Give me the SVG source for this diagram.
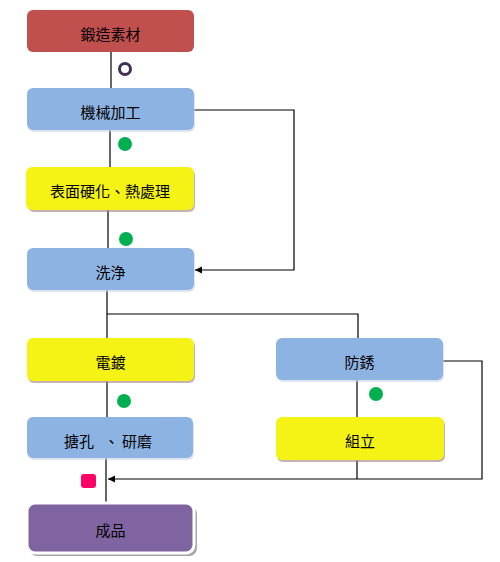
<svg xmlns="http://www.w3.org/2000/svg" width="500" height="562" viewBox="0 0 500 562">
<defs>
<marker id="arr" markerWidth="8" markerHeight="8" refX="7" refY="4" orient="auto" markerUnits="userSpaceOnUse">
<path d="M0,0.5 L7,4 L0,7.5 Z" fill="#000"/>
</marker>
</defs>
<style>
text{font-family:"Noto Sans CJK TC","Noto Sans CJK JP",sans-serif;font-size:15px;fill:#000;text-anchor:middle;dominant-baseline:central}
.red{fill:#c0504d}
.blue{fill:#8db3e2}
.yel{fill:#f5f215}
.pur{fill:#8064a2;stroke:#fff;stroke-width:3}
.sh{fill:#b09090;opacity:0.7}
.shb{fill:#c8d4e6;opacity:0.6}
.ln{stroke:#000;stroke-width:1.2;fill:none}
.dot{fill:#00b050}
</style>
<rect width="500" height="562" fill="#fff"/>
<g id="connectors">
<line class="ln" x1="111" y1="52" x2="111" y2="88"/>
<line class="ln" x1="110" y1="130" x2="110" y2="167"/>
<line class="ln" x1="108" y1="210" x2="108" y2="248"/>
<polyline class="ln" points="194,110 294,110 294,270 195,270" marker-end="url(#arr)"/>
<polyline class="ln" points="107,290 107,338"/>
<polyline class="ln" points="107,314 358,314 358,338"/>
<line class="ln" x1="107" y1="381" x2="107" y2="417"/>
<line class="ln" x1="357" y1="380" x2="357" y2="417"/>
<polyline class="ln" points="443,361 482,361 482,479 108,479" marker-end="url(#arr)"/>
<line class="ln" x1="357" y1="460" x2="357" y2="479"/>
<line class="ln" x1="106" y1="458" x2="106" y2="502"/>
</g>
<g id="mark-circle"><circle cx="125" cy="69" r="5.5" fill="#fff" stroke="#3f3151" stroke-width="3"/></g>
<g id="mark-dot1"><circle class="dot" cx="125" cy="144" r="7"/></g>
<g id="mark-dot2"><circle class="dot" cx="126" cy="239" r="7"/></g>
<g id="mark-dot3"><circle class="dot" cx="124" cy="401" r="7"/></g>
<g id="mark-dot4"><circle class="dot" cx="376" cy="394" r="7"/></g>
<g id="mark-square"><rect x="81" y="474" width="15" height="14" rx="3" fill="#ff0066"/></g>
<g id="node-forging">
<rect class="red" x="27" y="10" width="167" height="42" rx="6"/>
<text x="110.5" y="33">鍛造素材</text>
</g>
<g id="node-machining">
<rect class="shb" x="28" y="90" width="167" height="42" rx="6"/>
<rect class="blue" x="27" y="88" width="167" height="42" rx="6"/>
<text x="110.5" y="111">機械加工</text>
</g>
<g id="node-hardening">
<rect class="sh" x="28" y="169" width="167" height="43" rx="6"/>
<rect class="yel" x="26" y="167" width="168" height="43" rx="6"/>
<text x="110" y="190">表面硬化、熱處理</text>
</g>
<g id="node-wash">
<rect class="shb" x="28" y="250" width="167" height="42" rx="6"/>
<rect class="blue" x="27" y="248" width="167" height="42" rx="6"/>
<text x="110.5" y="271">洗浄</text>
</g>
<g id="node-plating">
<rect class="sh" x="28" y="340" width="167" height="43" rx="6"/>
<rect class="yel" x="27" y="338" width="167" height="43" rx="6"/>
<text x="110.5" y="361">電鍍</text>
</g>
<g id="node-rustproof">
<rect class="shb" x="277" y="340" width="167" height="42" rx="6"/>
<rect class="blue" x="276" y="338" width="167" height="42" rx="6"/>
<text x="359.5" y="361">防銹</text>
</g>
<g id="node-boring">
<rect class="shb" x="28" y="419" width="166" height="41" rx="6"/>
<rect class="blue" x="27" y="417" width="166" height="41" rx="6"/>
<text y="440" style="text-anchor:start"><tspan x="64">搪孔</tspan><tspan x="104">、</tspan><tspan x="122">研磨</tspan></text>
</g>
<g id="node-assembly">
<rect class="sh" x="277" y="419" width="168" height="43" rx="6"/>
<rect class="yel" x="276" y="417" width="168" height="43" rx="6"/>
<text x="360" y="440">組立</text>
</g>
<g id="node-product">
<rect x="29" y="506" width="168" height="50" rx="8" fill="#808080" opacity="0.7"/>
<rect class="pur" x="27" y="503" width="167" height="50" rx="8"/>
<text x="110.5" y="529">成品</text>
</g>
</svg>
